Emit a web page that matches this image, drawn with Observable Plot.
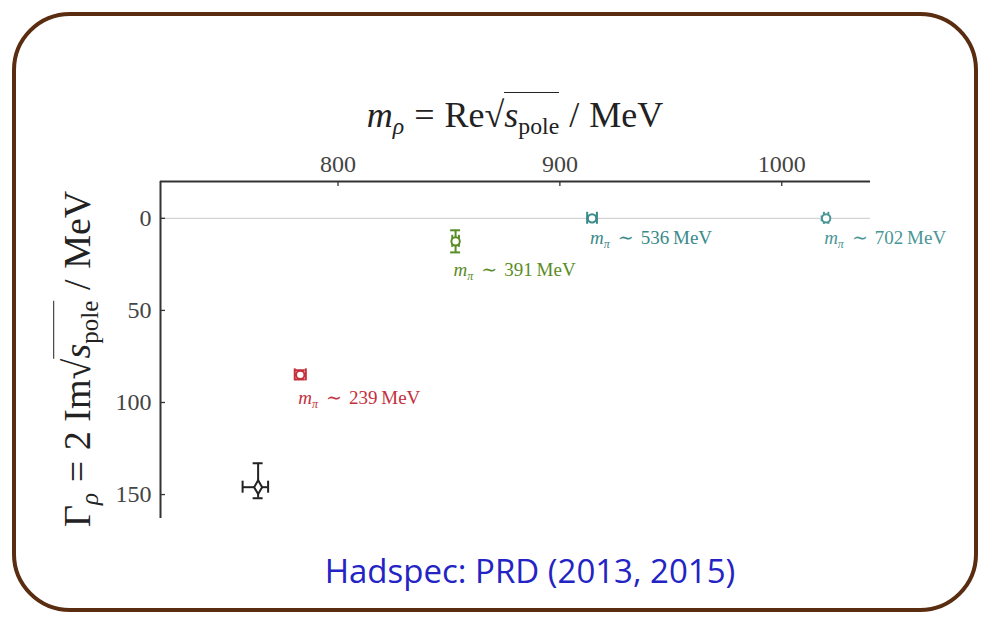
<!DOCTYPE html>
<html>
<head>
<meta charset="utf-8">
<script src="https://cdn.jsdelivr.net/npm/d3@7"></script>
<script src="https://cdn.jsdelivr.net/npm/@observablehq/plot@0.6"></script>
<style>
  body { margin: 0; background: #fff; }
  #wrap { position: relative; width: 986px; height: 620px; overflow: hidden; background: #fff;
          font-family: "Liberation Serif", "DejaVu Serif", serif; color: #222; }
  #chart { position: absolute; left: 0; top: 0; }
  #frame { position: absolute; left: 12px; top: 12px; width: 958px; height: 592px;
           border: 4px solid #5a2c10; border-radius: 58px; pointer-events: none; }
  .title { position: absolute; white-space: nowrap; line-height: 1; text-align: center; }
  .title sub { font-size: 0.66em; vertical-align: -0.3em; }
  .op { padding: 0 0.28em; }
  .over { border-top: 1.6px solid #222; padding-top: 2px; }
  #xtitle { left: 0; width: 1030px; top: 97px; font-size: 36px; }
  #ytitle { left: -120px; top: 337px; width: 400px; font-size: 38px; transform: rotate(-90deg); }
  #caption { position: absolute; left: 0; width: 1060px; top: 548px; text-align: center;
             font-family: "Open Sans", Lato, sans-serif; font-size: 33px; color: #2424c4; }
</style>
</head>
<body>
<div id="wrap">
  <div id="chart"></div>
  <div class="title" id="xtitle"><i>m</i><sub><i>ρ</i></sub><span class="op">=</span>Re<span>√</span><span class="over"><i>s</i><sub>pole</sub></span><span class="op">/</span>MeV</div>
  <div class="title" id="ytitle">Γ<sub><i>ρ</i></sub><span class="op">=</span>2 Im<span>√</span><span class="over"><i>s</i><sub>pole</sub></span><span class="op">/</span>MeV</div>
  <div id="caption">Hadspec: PRD (2013, 2015)</div>
  <div id="frame"></div>
</div>
<script>
// rho pole positions from lattice QCD at several pion masses, plus the physical point
const SERIES     = ["physical", "239", "391", "536", "702"];
const PION_LABEL = [null, "239", "391", "536", "702"];
const MASS       = [764, 783, 853, 914.5, 1020];
const MASS_LO    = [757, 780.5, 851.5, 912.3, 1019];
const MASS_HI    = [768.5, 785.5, 854.5, 916.7, 1021];
const WIDTH      = [146, 85, 12.5, 0, 0];
const WIDTH_LO   = [133, 82.5, 6.5, -0.6, -1];
const WIDTH_HI   = [152, 87.5, 18.5, 0.6, 1];

const X_TICKS = [800, 900, 1000];
const Y_TICKS = [0, 50, 100, 150];
const COLORS  = ["#222222", "#c4303c", "#5a8c26", "#3a8a8a", "#4a9696"];

const rows = SERIES.map((s, i) => ({
  s, label: PION_LABEL[i],
  m: MASS[i], mLo: MASS_LO[i], mHi: MASS_HI[i],
  g: WIDTH[i], gLo: WIDTH_LO[i], gHi: WIDTH_HI[i]
}));

const ink = "#333";
const sw = 2;
const serif = '"Liberation Serif", "DejaVu Serif", serif';

const chart = Plot.plot({
  width: 986, height: 620,
  marginLeft: 160, marginRight: 116, marginTop: 181, marginBottom: 102,
  style: { fontFamily: serif, background: "transparent" },
  x: { domain: [720, 1040] },
  y: { domain: [-20, 163], reverse: true },
  color: { domain: SERIES, range: COLORS },
  marks: [
    Plot.ruleY([0], { stroke: "#d2d2d2", strokeWidth: 1.3 }),
    Plot.axisX(X_TICKS, { anchor: "top", tickSize: 0, tickPadding: 10, label: null, fontSize: 24, fill: "#444",
                          tickFormat: d => String(d) }),
    Plot.axisY(Y_TICKS, { anchor: "left", tickSize: 0, tickPadding: 9, label: null, fontSize: 24, fill: "#444",
                          tickFormat: d => String(d) }),
    // inward tick marks
    Plot.ruleX(X_TICKS, { stroke: ink, strokeWidth: 1.3, insetBottom: 332 }),
    Plot.ruleY(Y_TICKS, { stroke: ink, strokeWidth: 1.3, insetRight: 705 }),
    // top and left spines
    Plot.ruleY([-20], { stroke: ink, strokeWidth: 2 }),
    Plot.ruleX([720], { stroke: ink, strokeWidth: 2 }),
    // width error bars with caps
    Plot.ruleX(rows, { x: "m", y1: "gLo", y2: "gHi", stroke: "s", strokeWidth: sw }),
    Plot.ruleY(rows, { y: "gLo", x1: "m", x2: "m", insetLeft: -5, insetRight: -5, stroke: "s", strokeWidth: sw }),
    Plot.ruleY(rows, { y: "gHi", x1: "m", x2: "m", insetLeft: -5, insetRight: -5, stroke: "s", strokeWidth: sw }),
    // mass error bars with caps
    Plot.ruleY(rows, { y: "g", x1: "mLo", x2: "mHi", stroke: "s", strokeWidth: sw }),
    Plot.ruleX(rows, { x: "mLo", y1: "g", y2: "g", insetTop: -6, insetBottom: -6, stroke: "s", strokeWidth: sw }),
    Plot.ruleX(rows, { x: "mHi", y1: "g", y2: "g", insetTop: -6, insetBottom: -6, stroke: "s", strokeWidth: sw }),
    // pole markers
    Plot.dot(rows, { x: "m", y: "g", symbol: d => d.s === "physical" ? "diamond" : "circle",
                     r: 4.2, fill: "white", stroke: "s", strokeWidth: sw }),
    // pion-mass annotations
    Plot.text(rows.filter(d => d.label), { x: "m", y: "gHi", text: "label", dx: -2, dy: 18,
                     textAnchor: "start", fill: "s", fontSize: 19 })
  ]
});

// typeset the annotations as "m_π ∼ N MeV"
chart.querySelectorAll('g[aria-label="text"] text').forEach(t => {
  const n = t.textContent;
  t.textContent = "";
  const ns = "http://www.w3.org/2000/svg";
  const add = (txt, attrs) => {
    const s = document.createElementNS(ns, "tspan");
    s.textContent = txt;
    for (const k in attrs) s.setAttribute(k, attrs[k]);
    t.appendChild(s);
  };
  add("m", { "font-style": "italic" });
  add("π", { "font-style": "italic", "font-size": "12px", dy: "4" });
  add("∼", { dy: "-4", dx: "8" });
  add(n + "\u2009MeV", { dx: "7" });
});

document.getElementById("chart").appendChild(chart);
</script>
</body>
</html>
